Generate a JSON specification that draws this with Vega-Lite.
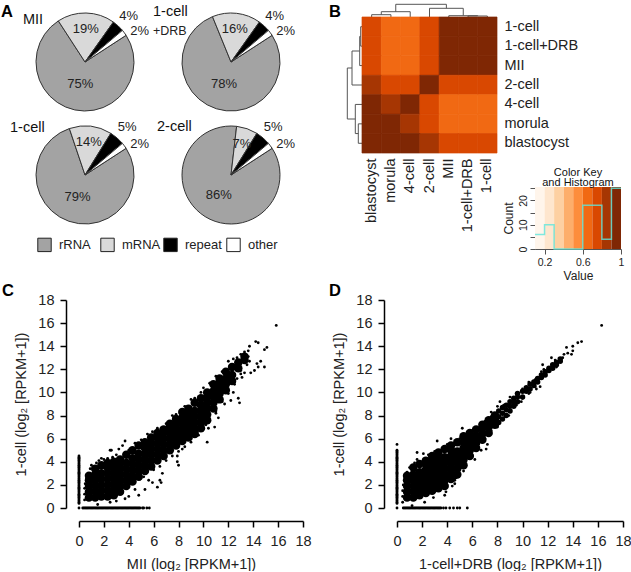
{
"$schema":"https://vega.github.io/schema/vega-lite/v6.json",
"padding":{"left":1,"top":-7,"right":0,"bottom":0},
"config":{"font":"Liberation Sans","view":{"stroke":null},"axis":{"grid":false},"text":{"color":"#222"},"title":{"color":"#111"}},
"datasets":{
"pie":[
{"stage":"MII","type":"rRNA","pct":75,"k":1,"label":"75%"},{"stage":"MII","type":"mRNA","pct":19,"k":2,"label":"19%"},{"stage":"MII","type":"repeat","pct":4,"k":3,"label":"4%"},{"stage":"MII","type":"other","pct":2,"k":4,"label":"2%"},
{"stage":"DRB","type":"rRNA","pct":78,"k":1,"label":"78%"},{"stage":"DRB","type":"mRNA","pct":16,"k":2,"label":"16%"},{"stage":"DRB","type":"repeat","pct":4,"k":3,"label":"4%"},{"stage":"DRB","type":"other","pct":2,"k":4,"label":"2%"},
{"stage":"1-cell","type":"rRNA","pct":79,"k":1,"label":"79%"},{"stage":"1-cell","type":"mRNA","pct":14,"k":2,"label":"14%"},{"stage":"1-cell","type":"repeat","pct":5,"k":3,"label":"5%"},{"stage":"1-cell","type":"other","pct":2,"k":4,"label":"2%"},
{"stage":"2-cell","type":"rRNA","pct":86,"k":1,"label":"86%"},{"stage":"2-cell","type":"mRNA","pct":7,"k":2,"label":"7%"},{"stage":"2-cell","type":"repeat","pct":5,"k":3,"label":"5%"},{"stage":"2-cell","type":"other","pct":2,"k":4,"label":"2%"}
],
"heat":[
{"r":"1-cell","c":"blastocyst","v":0.75},{"r":"1-cell","c":"morula","v":0.65},{"r":"1-cell","c":"4-cell","v":0.65},{"r":"1-cell","c":"2-cell","v":0.75},{"r":"1-cell","c":"MII","v":0.95},{"r":"1-cell","c":"1-cell+DRB","v":0.95},{"r":"1-cell","c":"1-cell","v":0.95},
{"r":"1-cell+DRB","c":"blastocyst","v":0.75},{"r":"1-cell+DRB","c":"morula","v":0.65},{"r":"1-cell+DRB","c":"4-cell","v":0.65},{"r":"1-cell+DRB","c":"2-cell","v":0.75},{"r":"1-cell+DRB","c":"MII","v":0.95},{"r":"1-cell+DRB","c":"1-cell+DRB","v":0.95},{"r":"1-cell+DRB","c":"1-cell","v":0.95},
{"r":"MII","c":"blastocyst","v":0.75},{"r":"MII","c":"morula","v":0.65},{"r":"MII","c":"4-cell","v":0.65},{"r":"MII","c":"2-cell","v":0.75},{"r":"MII","c":"MII","v":0.95},{"r":"MII","c":"1-cell+DRB","v":0.95},{"r":"MII","c":"1-cell","v":0.95},
{"r":"2-cell","c":"blastocyst","v":0.85},{"r":"2-cell","c":"morula","v":0.75},{"r":"2-cell","c":"4-cell","v":0.75},{"r":"2-cell","c":"2-cell","v":0.95},{"r":"2-cell","c":"MII","v":0.75},{"r":"2-cell","c":"1-cell+DRB","v":0.75},{"r":"2-cell","c":"1-cell","v":0.75},
{"r":"4-cell","c":"blastocyst","v":0.95},{"r":"4-cell","c":"morula","v":0.85},{"r":"4-cell","c":"4-cell","v":0.95},{"r":"4-cell","c":"2-cell","v":0.75},{"r":"4-cell","c":"MII","v":0.65},{"r":"4-cell","c":"1-cell+DRB","v":0.65},{"r":"4-cell","c":"1-cell","v":0.65},
{"r":"morula","c":"blastocyst","v":0.95},{"r":"morula","c":"morula","v":0.95},{"r":"morula","c":"4-cell","v":0.85},{"r":"morula","c":"2-cell","v":0.75},{"r":"morula","c":"MII","v":0.65},{"r":"morula","c":"1-cell+DRB","v":0.65},{"r":"morula","c":"1-cell","v":0.65},
{"r":"blastocyst","c":"blastocyst","v":0.95},{"r":"blastocyst","c":"morula","v":0.95},{"r":"blastocyst","c":"4-cell","v":0.95},{"r":"blastocyst","c":"2-cell","v":0.85},{"r":"blastocyst","c":"MII","v":0.75},{"r":"blastocyst","c":"1-cell+DRB","v":0.75},{"r":"blastocyst","c":"1-cell","v":0.75}
],
"treeTop":[
{"a":0.5,"b":1.5,"h":2.3,"i":2.3},{"a":1,"b":2.5,"h":5.3,"i":5.3},{"a":1.75,"b":4.375,"h":12.7,"i":12.7},{"a":3.5,"b":5.25,"h":8.7,"i":8.7},{"a":4.5,"b":6,"h":1.3,"i":1.3},{"a":5.5,"b":6.5,"h":1,"i":1},
{"a":0.5,"b":0.5,"h":0,"i":2.3},{"a":1.5,"b":1.5,"h":0,"i":2.3},{"a":1,"b":1,"h":2.3,"i":5.3},{"a":2.5,"b":2.5,"h":0,"i":5.3},{"a":1.75,"b":1.75,"h":5.3,"i":12.7},{"a":4.375,"b":4.375,"h":8.7,"i":12.7},{"a":3.5,"b":3.5,"h":0,"i":8.7},{"a":5.25,"b":5.25,"h":1.3,"i":8.7},{"a":4.5,"b":4.5,"h":0,"i":1.3},{"a":6,"b":6,"h":1,"i":1.3},{"a":5.5,"b":5.5,"h":0,"i":1},{"a":6.5,"b":6.5,"h":0,"i":1}
],
"treeLeft":[
{"h":1.3,"i":1.3,"a":0.5,"b":1.5},{"h":2.3,"i":2.3,"a":1,"b":2.5},{"h":10,"i":10,"a":1.75,"b":3.5},{"h":14.7,"i":14.7,"a":2.625,"b":5.25},{"h":6.7,"i":6.7,"a":4.5,"b":6},{"h":3.7,"i":3.7,"a":5.5,"b":6.5},
{"h":0,"i":1.3,"a":0.5,"b":0.5},{"h":0,"i":1.3,"a":1.5,"b":1.5},{"h":1.3,"i":2.3,"a":1,"b":1},{"h":0,"i":2.3,"a":2.5,"b":2.5},{"h":2.3,"i":10,"a":1.75,"b":1.75},{"h":0,"i":10,"a":3.5,"b":3.5},{"h":10,"i":14.7,"a":2.625,"b":2.625},{"h":6.7,"i":14.7,"a":5.25,"b":5.25},{"h":0,"i":6.7,"a":4.5,"b":4.5},{"h":3.7,"i":6.7,"a":6,"b":6},{"h":0,"i":3.7,"a":5.5,"b":5.5},{"h":0,"i":3.7,"a":6.5,"b":6.5}
],
"keyBins":[{"s":0.1,"e":0.2,"v":0.15},{"s":0.2,"e":0.3,"v":0.25},{"s":0.3,"e":0.4,"v":0.35},{"s":0.4,"e":0.5,"v":0.45},{"s":0.5,"e":0.6,"v":0.55},{"s":0.6,"e":0.7,"v":0.65},{"s":0.7,"e":0.8,"v":0.75},{"s":0.8,"e":0.9,"v":0.85},{"s":0.9,"e":1,"v":0.95}],
"hist":[{"v":0.1,"n":6},{"v":0.2,"n":10},{"v":0.3,"n":0},{"v":0.4,"n":0},{"v":0.5,"n":0},{"v":0.6,"n":18},{"v":0.7,"n":18},{"v":0.8,"n":4},{"v":0.9,"n":25},{"v":1,"n":25}],
"cCore":[
{"x":0.8,"y":0.9},{"x":0.8,"y":1.4},{"x":0.8,"y":1.9},{"x":0.8,"y":2.4},{"x":0.8,"y":2.8},
{"x":1.3,"y":0.9},{"x":1.3,"y":1.4},{"x":1.3,"y":1.9},{"x":1.3,"y":2.4},{"x":1.3,"y":2.9},{"x":1.3,"y":3.4},
{"x":1.8,"y":1},{"x":1.8,"y":1.5},{"x":1.8,"y":2},{"x":1.8,"y":2.5},{"x":1.8,"y":3},{"x":1.8,"y":3.7},
{"x":2.3,"y":1},{"x":2.3,"y":1.5},{"x":2.3,"y":2},{"x":2.3,"y":2.5},{"x":2.3,"y":3},{"x":2.3,"y":3.5},{"x":2.3,"y":3.9},
{"x":2.8,"y":1.1},{"x":2.8,"y":1.6},{"x":2.8,"y":2.1},{"x":2.8,"y":2.6},{"x":2.8,"y":3.1},{"x":2.8,"y":3.6},{"x":2.8,"y":4},
{"x":3.3,"y":1.4},{"x":3.3,"y":1.9},{"x":3.3,"y":2.4},{"x":3.3,"y":2.9},{"x":3.3,"y":3.4},{"x":3.3,"y":3.9},{"x":3.3,"y":4.2},
{"x":3.8,"y":1.9},{"x":3.8,"y":2.4},{"x":3.8,"y":2.9},{"x":3.8,"y":3.4},{"x":3.8,"y":3.9},{"x":3.8,"y":4.6},
{"x":4.3,"y":2.3},{"x":4.3,"y":2.8},{"x":4.3,"y":3.3},{"x":4.3,"y":3.8},{"x":4.3,"y":4.3},{"x":4.3,"y":5},
{"x":4.8,"y":2.7},{"x":4.8,"y":3.2},{"x":4.8,"y":3.7},{"x":4.8,"y":4.2},{"x":4.8,"y":4.7},{"x":4.8,"y":5.4},
{"x":5.3,"y":3.2},{"x":5.3,"y":3.7},{"x":5.3,"y":4.2},{"x":5.3,"y":4.7},{"x":5.3,"y":5.2},{"x":5.3,"y":5.7},
{"x":5.8,"y":3.6},{"x":5.8,"y":4.1},{"x":5.8,"y":4.6},{"x":5.8,"y":5.1},{"x":5.8,"y":5.6},{"x":5.8,"y":6.1},
{"x":6.3,"y":4.1},{"x":6.3,"y":4.6},{"x":6.3,"y":5.1},{"x":6.3,"y":5.6},{"x":6.3,"y":6.1},{"x":6.3,"y":6.5},
{"x":6.8,"y":4.5},{"x":6.8,"y":5},{"x":6.8,"y":5.5},{"x":6.8,"y":6},{"x":6.8,"y":6.5},{"x":6.8,"y":6.8},
{"x":7.3,"y":5},{"x":7.3,"y":5.5},{"x":7.3,"y":6},{"x":7.3,"y":6.5},{"x":7.3,"y":7},{"x":7.3,"y":7.3},
{"x":7.8,"y":5.4},{"x":7.8,"y":5.9},{"x":7.8,"y":6.4},{"x":7.8,"y":6.9},{"x":7.8,"y":7.4},{"x":7.8,"y":7.7},
{"x":8.3,"y":5.8},{"x":8.3,"y":6.3},{"x":8.3,"y":6.8},{"x":8.3,"y":7.3},{"x":8.3,"y":7.8},{"x":8.3,"y":8.3},
{"x":8.8,"y":6.1},{"x":8.8,"y":6.6},{"x":8.8,"y":7.1},{"x":8.8,"y":7.6},{"x":8.8,"y":8.1},{"x":8.8,"y":8.6},
{"x":9.3,"y":6.4},{"x":9.3,"y":6.9},{"x":9.3,"y":7.4},{"x":9.3,"y":7.9},{"x":9.3,"y":8.4},{"x":9.3,"y":9.1},
{"x":9.8,"y":6.9},{"x":9.8,"y":7.4},{"x":9.8,"y":7.9},{"x":9.8,"y":8.4},{"x":9.8,"y":8.9},{"x":9.8,"y":9.5},
{"x":10.3,"y":7.6},{"x":10.3,"y":8.1},{"x":10.3,"y":8.6},{"x":10.3,"y":9.1},{"x":10.3,"y":9.6},{"x":10.3,"y":10},
{"x":10.8,"y":8.6},{"x":10.8,"y":9.1},{"x":10.8,"y":9.6},{"x":10.8,"y":10.1},{"x":10.8,"y":10.7},
{"x":11.3,"y":9.4},{"x":11.3,"y":9.9},{"x":11.3,"y":10.4},{"x":11.3,"y":10.9},{"x":11.3,"y":11.2},
{"x":11.8,"y":10.2},{"x":11.8,"y":10.7},{"x":11.8,"y":11.2},{"x":11.8,"y":11.8},
{"x":12.3,"y":11},{"x":12.3,"y":11.5},{"x":12.3,"y":12.2},
{"x":12.8,"y":12.1},{"x":12.8,"y":12.6},
{"x":13.3,"y":12.8},{"x":13.3,"y":13.1}
],
"cEdge":[
{"x":15.85,"y":15.8},{"x":14.2,"y":14.4},{"x":14.4,"y":14.3},{"x":14.9,"y":13.7},{"x":15.1,"y":13.9},{"x":14.6,"y":12.7},{"x":14.3,"y":12.5},{"x":14.9,"y":12.2},{"x":14.4,"y":12.2},{"x":14.1,"y":11.9},{"x":13.8,"y":11.7},{"x":13.3,"y":11.7},{"x":13.1,"y":11.3},{"x":12.7,"y":11.2},{"x":12.5,"y":10.9},{"x":13,"y":11.6},{"x":12.4,"y":10},{"x":12.8,"y":9.5},{"x":12.9,"y":9.1},{"x":12.2,"y":9.3},{"x":11.7,"y":9},{"x":11.2,"y":7.8},{"x":11,"y":8.2},{"x":10.9,"y":7},{"x":10.4,"y":6.9},{"x":10.2,"y":7.2},{"x":10.3,"y":5.7},{"x":9.6,"y":6.3},{"x":9.3,"y":6.2},{"x":9,"y":5.7},{"x":8.6,"y":6},{"x":8.3,"y":5.1},{"x":7.9,"y":4.5},{"x":8,"y":5.5},{"x":7.9,"y":4},{"x":8,"y":3.7},{"x":6.7,"y":3},{"x":6.5,"y":2.4},{"x":6.3,"y":1.8},{"x":6.6,"y":2.2},{"x":5.9,"y":2.2},{"x":5.6,"y":2.4},{"x":5.3,"y":1.6},{"x":4.9,"y":2.5},{"x":5.2,"y":2.7},{"x":4.8,"y":1.1},{"x":4.5,"y":1.6},{"x":4,"y":1},{"x":3.7,"y":0.8},{"x":3,"y":0.6},{"x":2.5,"y":0.5},{"x":1.5,"y":0.3},
{"x":6,"y":3.3},{"x":6.5,"y":3.6},{"x":7,"y":4.1},{"x":7.5,"y":4.5},{"x":8,"y":4.9},{"x":8.5,"y":5.3},{"x":9,"y":6},{"x":9.5,"y":6.6},{"x":10,"y":7.2},{"x":10.5,"y":7.7},{"x":11,"y":8.4},{"x":11.5,"y":9.2},{"x":12,"y":9.9},{"x":12.5,"y":10.7},{"x":13,"y":11.9},{"x":13.5,"y":12.4},
{"x":0.45,"y":0.7},{"x":0.45,"y":1.2},{"x":0.45,"y":1.7},{"x":0.5,"y":2.1},{"x":0.6,"y":2.5},{"x":0.7,"y":2.9},{"x":0.9,"y":3.4},{"x":1,"y":3.7},{"x":1.2,"y":3.6},{"x":1.6,"y":4.1},{"x":1.4,"y":3.9},{"x":1.8,"y":4.3},{"x":2,"y":4.2},{"x":2.3,"y":4.3},{"x":2.5,"y":5},{"x":2.6,"y":5},{"x":2.7,"y":4.4},{"x":3.7,"y":5.8},{"x":3.2,"y":5.1},{"x":3.5,"y":5.4},{"x":3,"y":4.6},{"x":4,"y":5},{"x":4.5,"y":5.6},{"x":5,"y":5.9},{"x":5.5,"y":6.4},{"x":6.3,"y":6.9},{"x":5.9,"y":6.6},{"x":6.6,"y":6.9},{"x":7,"y":7.3},{"x":7.3,"y":7.5},{"x":7.5,"y":8},{"x":7.8,"y":8.1},{"x":8.2,"y":8.4},{"x":8.5,"y":8.8},{"x":9,"y":9.4},{"x":9.3,"y":9.5},{"x":9.8,"y":10},{"x":10,"y":10.4},{"x":10.5,"y":10.8},{"x":11,"y":11.4},{"x":11.5,"y":11.8},{"x":12,"y":12.7},{"x":12.4,"y":12.9},{"x":12.7,"y":13},{"x":13,"y":13.3},{"x":13.3,"y":13.5},{"x":13.7,"y":14},{"x":13.6,"y":13.6},{"x":13.6,"y":13.1},{"x":13.7,"y":12.7},
{"x":0,"y":0},{"x":0,"y":0.4},{"x":0,"y":0.5},{"x":0,"y":0.6},{"x":0,"y":0.7},{"x":0,"y":0.8},{"x":0,"y":0.9},{"x":0,"y":1},{"x":0,"y":1.1},{"x":0,"y":1.2},{"x":0,"y":1.3},{"x":0,"y":1.4},{"x":0,"y":1.5},{"x":0,"y":1.6},{"x":0,"y":1.7},{"x":0,"y":1.8},{"x":0,"y":1.9},{"x":0,"y":2},{"x":0,"y":2.1},{"x":0,"y":2.2},{"x":0,"y":2.3},{"x":0,"y":2.4},{"x":0,"y":2.5},{"x":0,"y":2.6},{"x":0,"y":2.7},{"x":0,"y":2.8},{"x":0,"y":2.9},{"x":0,"y":3},{"x":0,"y":3.1},{"x":0,"y":3.2},{"x":0,"y":3.3},{"x":0,"y":3.4},{"x":0,"y":3.5},{"x":0,"y":3.6},{"x":0,"y":3.7},{"x":0,"y":3.8},{"x":0,"y":3.9},{"x":0,"y":4},{"x":0,"y":4.1},{"x":0,"y":4.2},{"x":0,"y":4.3},{"x":0,"y":4.4},{"x":0,"y":4.5},
{"x":0.3,"y":0},{"x":0.4,"y":0},{"x":0.5,"y":0},{"x":0.6,"y":0},{"x":0.7,"y":0},{"x":0.8,"y":0},{"x":0.9,"y":0},{"x":1,"y":0},{"x":1.1,"y":0},{"x":1.2,"y":0},{"x":1.3,"y":0},{"x":1.4,"y":0},{"x":1.5,"y":0},{"x":1.6,"y":0},{"x":1.7,"y":0},{"x":1.8,"y":0},{"x":1.9,"y":0},{"x":2,"y":0},{"x":2.1,"y":0},{"x":2.2,"y":0},{"x":2.3,"y":0},{"x":2.4,"y":0},{"x":2.5,"y":0},{"x":2.6,"y":0},{"x":2.7,"y":0},{"x":2.8,"y":0},{"x":2.9,"y":0},{"x":3,"y":0},{"x":3.1,"y":0},{"x":3.2,"y":0},{"x":3.3,"y":0},{"x":3.4,"y":0},{"x":3.5,"y":0},{"x":3.6,"y":0},{"x":3.7,"y":0},{"x":3.8,"y":0},{"x":3.9,"y":0},{"x":4,"y":0},{"x":4.1,"y":0},{"x":4.2,"y":0},{"x":4.3,"y":0},{"x":4.4,"y":0},{"x":4.5,"y":0},{"x":4.6,"y":0},{"x":4.7,"y":0},{"x":4.8,"y":0},{"x":4.9,"y":0},{"x":5.1,"y":0},{"x":5.2,"y":0},{"x":5.45,"y":0},{"x":5.65,"y":0}
],
"dCore":[
{"x":0.8,"y":0.9},{"x":0.8,"y":1.4},{"x":0.8,"y":1.9},{"x":0.8,"y":2.4},{"x":0.8,"y":2.8},
{"x":1.3,"y":0.9},{"x":1.3,"y":1.4},{"x":1.3,"y":1.9},{"x":1.3,"y":2.4},{"x":1.3,"y":2.9},{"x":1.3,"y":3.5},
{"x":1.8,"y":1.1},{"x":1.8,"y":1.6},{"x":1.8,"y":2.1},{"x":1.8,"y":2.6},{"x":1.8,"y":3.1},{"x":1.8,"y":3.8},
{"x":2.3,"y":1.3},{"x":2.3,"y":1.8},{"x":2.3,"y":2.3},{"x":2.3,"y":2.8},{"x":2.3,"y":3.3},{"x":2.3,"y":3.8},{"x":2.3,"y":4.1},
{"x":2.8,"y":1.5},{"x":2.8,"y":2},{"x":2.8,"y":2.5},{"x":2.8,"y":3},{"x":2.8,"y":3.5},{"x":2.8,"y":4},{"x":2.8,"y":4.5},
{"x":3.3,"y":1.7},{"x":3.3,"y":2.2},{"x":3.3,"y":2.7},{"x":3.3,"y":3.2},{"x":3.3,"y":3.7},{"x":3.3,"y":4.2},{"x":3.3,"y":4.8},
{"x":3.8,"y":1.9},{"x":3.8,"y":2.4},{"x":3.8,"y":2.9},{"x":3.8,"y":3.4},{"x":3.8,"y":3.9},{"x":3.8,"y":4.4},{"x":3.8,"y":5.1},
{"x":4.3,"y":2.5},{"x":4.3,"y":3},{"x":4.3,"y":3.5},{"x":4.3,"y":4},{"x":4.3,"y":4.5},{"x":4.3,"y":5},{"x":4.3,"y":5.4},
{"x":4.8,"y":2.9},{"x":4.8,"y":3.4},{"x":4.8,"y":3.9},{"x":4.8,"y":4.4},{"x":4.8,"y":4.9},{"x":4.8,"y":5.7},
{"x":5.3,"y":3.7},{"x":5.3,"y":4.2},{"x":5.3,"y":4.7},{"x":5.3,"y":5.2},{"x":5.3,"y":5.7},{"x":5.3,"y":6.2},
{"x":5.8,"y":4.5},{"x":5.8,"y":5},{"x":5.8,"y":5.5},{"x":5.8,"y":6},{"x":5.8,"y":6.5},
{"x":6.3,"y":5.2},{"x":6.3,"y":5.7},{"x":6.3,"y":6.2},{"x":6.3,"y":6.8},
{"x":6.8,"y":5.9},{"x":6.8,"y":6.4},{"x":6.8,"y":6.9},{"x":6.8,"y":7.2},
{"x":7.3,"y":6.5},{"x":7.3,"y":7},{"x":7.3,"y":7.6},
{"x":7.8,"y":7.2},{"x":7.8,"y":7.7},{"x":7.8,"y":8}
],
"dMid":[
{"x":8.1,"y":7.4},{"x":8.1,"y":7.9},{"x":8.1,"y":8.4},{"x":8.4,"y":7.7},{"x":8.4,"y":8.2},{"x":8.4,"y":8.7},{"x":8.7,"y":8},{"x":8.7,"y":8.5},{"x":8.7,"y":8.9},{"x":9,"y":8.4},{"x":9,"y":8.8},{"x":9,"y":9.2},{"x":9.3,"y":8.8},{"x":9.3,"y":9.2},{"x":9.3,"y":9.5},{"x":9.6,"y":9.2},{"x":9.6,"y":9.6},{"x":9.6,"y":9.9},{"x":10,"y":9.6},{"x":10,"y":10.1},{"x":10.3,"y":10.1},{"x":10.3,"y":10.4},{"x":10.6,"y":10.3},{"x":10.6,"y":10.7},{"x":10.9,"y":10.6},{"x":10.9,"y":10.9},{"x":11.2,"y":10.9},{"x":11.2,"y":11.2},{"x":11.5,"y":11.3},{"x":11.5,"y":11.5},{"x":11.8,"y":11.5},{"x":11.8,"y":11.8},{"x":12.1,"y":11.9},{"x":12.1,"y":12.1},{"x":12.4,"y":12.1},{"x":12.4,"y":12.4},{"x":12.7,"y":12.4},{"x":12.7,"y":12.6},{"x":13,"y":12.7},{"x":13,"y":12.9}
],
"dEdge":[
{"x":16.3,"y":15.8},{"x":14.7,"y":14.4},{"x":14.4,"y":14.3},{"x":14,"y":14},{"x":14,"y":13.6},{"x":13.9,"y":13.3},{"x":13.5,"y":13.9},{"x":13.6,"y":13.4},{"x":13.3,"y":13.3},{"x":13.2,"y":13},{"x":12.7,"y":12.2},{"x":12.6,"y":12.8},{"x":12.3,"y":13},{"x":11.7,"y":12},{"x":11.6,"y":12.4},{"x":11.4,"y":10.5},{"x":11.1,"y":10.3},{"x":10.6,"y":10},{"x":9.5,"y":9},{"x":9.9,"y":9.2},{"x":8.7,"y":8.1},{"x":8.9,"y":8},{"x":8,"y":7},{"x":7.2,"y":5.5},{"x":7.1,"y":5.1},{"x":6.7,"y":5},{"x":6.2,"y":4.2},{"x":6,"y":4.5},{"x":5.3,"y":3.2},{"x":5.1,"y":3.5},{"x":4.7,"y":2.6},{"x":4.6,"y":2.1},{"x":4.6,"y":2.4},{"x":4.4,"y":1.9},{"x":3.9,"y":1.4},{"x":3.8,"y":1.1},{"x":2.9,"y":0.9},{"x":2.2,"y":0.5},{"x":1.2,"y":0.2},
{"x":1,"y":3.5},{"x":1.4,"y":3.9},{"x":1.6,"y":4.2},{"x":1.6,"y":4.8},{"x":2.1,"y":4.7},{"x":2.5,"y":4.6},{"x":3,"y":4.9},{"x":3.2,"y":5.8},{"x":3.6,"y":5.1},{"x":4,"y":5.5},{"x":4.3,"y":6},{"x":4.6,"y":5.6},{"x":5.2,"y":6.9},{"x":5,"y":6},{"x":5.5,"y":6.3},{"x":6,"y":6.7},{"x":6.3,"y":6.9},{"x":6.6,"y":6.9},{"x":7,"y":7.5},{"x":7.5,"y":8.3},{"x":8,"y":8.8},{"x":8.2,"y":9.2},{"x":7.5,"y":7.9},{"x":8.5,"y":8.9},{"x":9,"y":9.6},{"x":9.5,"y":9.9},{"x":10,"y":10.3},{"x":10.5,"y":10.9},{"x":11,"y":11.1},{"x":11.5,"y":11.8},
{"x":6,"y":5.1},{"x":6.5,"y":5.5},{"x":7,"y":6},{"x":7.5,"y":6.7},{"x":8,"y":7.3},{"x":8.5,"y":7.8},{"x":9,"y":8.4},{"x":9.5,"y":8.9},{"x":10,"y":9.5},{"x":10.5,"y":9.9},{"x":11,"y":10.5},
{"x":0.45,"y":0.5},{"x":0.45,"y":1},{"x":0.45,"y":1.5},{"x":0.5,"y":2},{"x":0.6,"y":2.4},{"x":0.7,"y":2.9},{"x":0.8,"y":3.1},
{"x":0,"y":0},{"x":0,"y":0.4},{"x":0,"y":0.5},{"x":0,"y":0.6},{"x":0,"y":0.7},{"x":0,"y":0.8},{"x":0,"y":0.9},{"x":0,"y":1},{"x":0,"y":1.1},{"x":0,"y":1.2},{"x":0,"y":1.3},{"x":0,"y":1.4},{"x":0,"y":1.5},{"x":0,"y":1.6},{"x":0,"y":1.7},{"x":0,"y":1.8},{"x":0,"y":1.9},{"x":0,"y":2},{"x":0,"y":2.1},{"x":0,"y":2.2},{"x":0,"y":2.3},{"x":0,"y":2.4},{"x":0,"y":2.5},{"x":0,"y":2.6},{"x":0,"y":2.7},{"x":0,"y":2.8},{"x":0,"y":2.9},{"x":0,"y":3},{"x":0,"y":3.1},{"x":0,"y":3.2},{"x":0,"y":3.3},{"x":0,"y":3.4},{"x":0,"y":3.5},{"x":0,"y":3.6},{"x":0,"y":3.7},{"x":0,"y":3.8},{"x":0,"y":3.9},{"x":0,"y":4},{"x":0,"y":4.1},{"x":0,"y":4.2},{"x":0,"y":4.3},{"x":0,"y":4.4},{"x":0,"y":4.5},{"x":0,"y":4.6},{"x":0,"y":4.7},{"x":0,"y":4.8},{"x":0,"y":4.9},{"x":0,"y":5},{"x":0,"y":5.5},
{"x":0.5,"y":0},{"x":0.6,"y":0},{"x":0.7,"y":0},{"x":0.8,"y":0},{"x":0.9,"y":0},{"x":1,"y":0},{"x":1.1,"y":0},{"x":1.2,"y":0},{"x":1.3,"y":0},{"x":1.4,"y":0},{"x":1.5,"y":0},{"x":1.6,"y":0},{"x":1.7,"y":0},{"x":1.8,"y":0},{"x":1.9,"y":0},{"x":2,"y":0},{"x":2.1,"y":0},{"x":2.2,"y":0},{"x":2.3,"y":0},{"x":2.4,"y":0},{"x":2.5,"y":0},{"x":2.6,"y":0},{"x":2.7,"y":0},{"x":2.8,"y":0},{"x":2.9,"y":0},{"x":3,"y":0},{"x":3.1,"y":0},{"x":3.2,"y":0},{"x":3.3,"y":0},{"x":3.4,"y":0},{"x":3.5,"y":0},{"x":3.7,"y":0},{"x":3.9,"y":0},{"x":4.2,"y":0},{"x":4.5,"y":0},{"x":4.8,"y":0},{"x":5.0,"y":0},{"x":5.6,"y":0}
]
},
"spacing":0,
"columns":1,
"align":"none",
"resolve":{"scale":{"color":"independent"}},
"concat":[
{"hconcat":[
{"title":{"text":"A","anchor":"start","frame":"group","fontSize":16.5,"fontWeight":"bold","offset":0,"dx":-35,"dy":27,"color":"#000"},
 "concat":[
 {"width":98,"height":10,"data":{"values":[]},"mark":"point"},
 {"width":98,"height":10,"data":{"values":[]},"mark":"point"},
 {"width":98,"height":98,"title":{"text":"MII","anchor":"start","frame":"group","fontSize":14.5,"fontWeight":"normal","offset":0,"dx":-13,"dy":34},
  "data":{"name":"pie"},"transform":[{"filter":"datum.stage==='MII'"}],
  "encoding":{"theta":{"field":"pct","type":"quantitative","stack":true,"scale":{"domain":[0,100],"range":[0.995,7.278]}},"order":{"field":"k"},"detail":{"field":"k"}},
  "layer":[
  {"mark":{"type":"arc","outerRadius":49,"stroke":"#333","strokeWidth":1},"encoding":{"color":{"field":"type","type":"nominal","scale":{"domain":["rRNA","mRNA","repeat","other"],"range":["#a3a3a3","#d9d9d9","#000000","#ffffff"]},"legend":null}}},
  {"mark":{"type":"text","fontSize":13},"encoding":{"radius":{"value":23},"text":{"condition":{"test":"datum.k===1","field":"label"},"value":""}}},
  {"mark":{"type":"text","fontSize":13},"encoding":{"radius":{"value":33},"text":{"condition":{"test":"datum.k===2","field":"label"},"value":""}}},
  {"mark":{"type":"text","fontSize":13,"dx":1},"encoding":{"radius":{"value":63},"text":{"condition":{"test":"datum.k===3","field":"label"},"value":""}}},
  {"mark":{"type":"text","fontSize":13,"dx":4,"dy":7},"encoding":{"radius":{"value":63},"text":{"condition":{"test":"datum.k===4","field":"label"},"value":""}}}
  ]},
 {"width":98,"height":98,"title":{"text":"1-cell","subtitle":"+DRB","anchor":"start","frame":"group","fontSize":14.5,"fontWeight":"normal","subtitleFontSize":12.5,"subtitlePadding":5,"subtitleColor":"#222","offset":0,"dx":-29,"dy":45},
  "data":{"name":"pie"},"transform":[{"filter":"datum.stage==='DRB'"}],
  "encoding":{"theta":{"field":"pct","type":"quantitative","stack":true,"scale":{"domain":[0,100],"range":[0.995,7.278]}},"order":{"field":"k"},"detail":{"field":"k"}},
  "layer":[
  {"mark":{"type":"arc","outerRadius":49,"stroke":"#333","strokeWidth":1},"encoding":{"color":{"field":"type","type":"nominal","scale":{"domain":["rRNA","mRNA","repeat","other"],"range":["#a3a3a3","#d9d9d9","#000000","#ffffff"]},"legend":null}}},
  {"mark":{"type":"text","fontSize":13},"encoding":{"radius":{"value":23},"text":{"condition":{"test":"datum.k===1","field":"label"},"value":""}}},
  {"mark":{"type":"text","fontSize":13},"encoding":{"radius":{"value":33},"text":{"condition":{"test":"datum.k===2","field":"label"},"value":""}}},
  {"mark":{"type":"text","fontSize":13,"dx":1},"encoding":{"radius":{"value":63},"text":{"condition":{"test":"datum.k===3","field":"label"},"value":""}}},
  {"mark":{"type":"text","fontSize":13,"dx":4,"dy":7},"encoding":{"radius":{"value":63},"text":{"condition":{"test":"datum.k===4","field":"label"},"value":""}}}
  ]},
 {"width":98,"height":15,"data":{"values":[]},"mark":"point"},
 {"width":98,"height":15,"data":{"values":[]},"mark":"point"},
 {"width":98,"height":98,"title":{"text":"1-cell","anchor":"start","frame":"group","fontSize":14.5,"fontWeight":"normal","offset":0,"dx":-26,"dy":29},
  "data":{"name":"pie"},"transform":[{"filter":"datum.stage==='1-cell'"}],
  "encoding":{"theta":{"field":"pct","type":"quantitative","stack":true,"scale":{"domain":[0,100],"range":[0.995,7.278]}},"order":{"field":"k"},"detail":{"field":"k"}},
  "layer":[
  {"mark":{"type":"arc","outerRadius":49,"stroke":"#333","strokeWidth":1},"encoding":{"color":{"field":"type","type":"nominal","title":null,"scale":{"domain":["rRNA","mRNA","repeat","other"],"range":["#a3a3a3","#d9d9d9","#000000","#ffffff"]},"legend":{"orient":"none","legendX":1,"legendY":111,"direction":"horizontal","columns":4,"gridAlign":"all","columnPadding":0,"symbolType":"square","symbolSize":180,"symbolStrokeColor":"#222","symbolStrokeWidth":1,"symbolOpacity":1,"labelFontSize":13,"labelColor":"#222","labelOffset":7,"title":null}}}},
  {"mark":{"type":"text","fontSize":13},"encoding":{"radius":{"value":23},"text":{"condition":{"test":"datum.k===1","field":"label"},"value":""}}},
  {"mark":{"type":"text","fontSize":13},"encoding":{"radius":{"value":33},"text":{"condition":{"test":"datum.k===2","field":"label"},"value":""}}},
  {"mark":{"type":"text","fontSize":13,"dx":1},"encoding":{"radius":{"value":63},"text":{"condition":{"test":"datum.k===3","field":"label"},"value":""}}},
  {"mark":{"type":"text","fontSize":13,"dx":4,"dy":7},"encoding":{"radius":{"value":63},"text":{"condition":{"test":"datum.k===4","field":"label"},"value":""}}}
  ]},
 {"width":98,"height":98,"title":{"text":"2-cell","anchor":"start","frame":"group","fontSize":14.5,"fontWeight":"normal","offset":0,"dx":-25,"dy":25},
  "data":{"name":"pie"},"transform":[{"filter":"datum.stage==='2-cell'"}],
  "encoding":{"theta":{"field":"pct","type":"quantitative","stack":true,"scale":{"domain":[0,100],"range":[0.995,7.278]}},"order":{"field":"k"},"detail":{"field":"k"}},
  "layer":[
  {"mark":{"type":"arc","outerRadius":49,"stroke":"#333","strokeWidth":1},"encoding":{"color":{"field":"type","type":"nominal","scale":{"domain":["rRNA","mRNA","repeat","other"],"range":["#a3a3a3","#d9d9d9","#000000","#ffffff"]},"legend":null}}},
  {"mark":{"type":"text","fontSize":13},"encoding":{"radius":{"value":23},"text":{"condition":{"test":"datum.k===1","field":"label"},"value":""}}},
  {"mark":{"type":"text","fontSize":13},"encoding":{"radius":{"value":33},"text":{"condition":{"test":"datum.k===2","field":"label"},"value":""}}},
  {"mark":{"type":"text","fontSize":13,"dx":1},"encoding":{"radius":{"value":63},"text":{"condition":{"test":"datum.k===3","field":"label"},"value":""}}},
  {"mark":{"type":"text","fontSize":13,"dx":4,"dy":7},"encoding":{"radius":{"value":63},"text":{"condition":{"test":"datum.k===4","field":"label"},"value":""}}}
  ]}
 ],
 "columns":2,"bounds":"flush","spacing":{"row":0,"column":48},"resolve":{"scale":{"color":"independent"}}},
{"concat":[
 {"width":15,"height":14,"data":{"values":[]},"mark":"point","title":{"text":"B","anchor":"start","frame":"group","fontSize":16.5,"fontWeight":"bold","offset":0,"dx":-18,"dy":17,"color":"#000"}},
 {"width":135,"height":14,"data":{"name":"treeTop"},"mark":{"type":"rule","color":"#555","strokeWidth":1},
  "encoding":{"x":{"field":"a","type":"quantitative","axis":null,"scale":{"domain":[0,7]}},"x2":{"field":"b"},"y":{"field":"h","type":"quantitative","axis":null,"scale":{"domain":[0,14]}},"y2":{"field":"i"}}},
 {"width":38,"height":14,"data":{"values":[]},"mark":"point"},
 {"width":86,"height":14,"data":{"values":[]},"mark":"point"},
 {"width":15,"height":136,"data":{"name":"treeLeft"},"mark":{"type":"rule","color":"#555","strokeWidth":1},
  "encoding":{"x":{"field":"h","type":"quantitative","axis":null,"scale":{"domain":[15,0]}},"x2":{"field":"i"},"y":{"field":"a","type":"quantitative","axis":null,"scale":{"domain":[7,0]}},"y2":{"field":"b"}}},
 {"width":135,"height":136,"data":{"name":"heat"},"mark":{"type":"rect","strokeWidth":0.7},
  "encoding":{
   "x":{"field":"c","type":"nominal","sort":["blastocyst","morula","4-cell","2-cell","MII","1-cell+DRB","1-cell"],"title":null,"axis":{"labelAngle":270,"ticks":false,"domain":false,"labelFontSize":14.5,"labelPadding":5,"labelColor":"#222"}},
   "y":{"field":"r","type":"nominal","sort":["1-cell","1-cell+DRB","MII","2-cell","4-cell","morula","blastocyst"],"title":null,"axis":{"orient":"right","ticks":false,"domain":false,"labelFontSize":14.5,"labelPadding":7,"labelColor":"#222"}},
   "color":{"field":"v","type":"quantitative","legend":null,"scale":{"type":"quantize","domain":[0.1,1],"range":["#fff5eb","#fee6ce","#fdd0a2","#fdae6b","#fd8d3c","#f16913","#d94801","#a63603","#7f2704"]}},
   "stroke":{"field":"v","type":"quantitative","legend":null,"scale":{"type":"quantize","domain":[0.1,1],"range":["#fff5eb","#fee6ce","#fdd0a2","#fdae6b","#fd8d3c","#f16913","#d94801","#a63603","#7f2704"]}}}},
 {"width":38,"height":136,"data":{"values":[]},"mark":"point"},
 {"width":86,"height":136,"data":{"values":[]},"mark":"point"},
 {"width":15,"height":34,"data":{"values":[]},"mark":"point"},
 {"width":135,"height":34,"data":{"values":[]},"mark":"point"},
 {"width":38,"height":34,"data":{"values":[]},"mark":"point"},
 {"width":86,"height":34,"data":{"values":[]},"mark":"point"},
 {"width":15,"height":62,"data":{"values":[]},"mark":"point"},
 {"width":135,"height":62,"data":{"values":[]},"mark":"point"},
 {"width":38,"height":62,"data":{"values":[]},"mark":"point"},
 {"width":86,"height":62,"title":{"text":["Color Key","and Histogram"],"fontSize":11,"fontWeight":"normal","offset":3,"dy":6,"lineHeight":10.5,"anchor":"middle"},
  "layer":[
  {"data":{"name":"keyBins"},"mark":{"type":"rect"},
   "encoding":{"x":{"field":"s","type":"quantitative","scale":{"domain":[0.1,1],"nice":false,"zero":false},"title":"Value","axis":{"values":[0.2,0.4,0.6,0.8,1],"labelExpr":"(abs(datum.value-0.4)<0.01||abs(datum.value-0.8)<0.01)?'':datum.value","labelOverlap":false,"labelFlush":false,"labelFontSize":10.5,"titleFontSize":12,"titleFontWeight":"normal","tickColor":"#555","domainColor":"#555","labelColor":"#222","titleColor":"#222","tickSize":5,"labelPadding":3,"titlePadding":3}},"x2":{"field":"e"},
    "color":{"field":"v","type":"quantitative","legend":null,"scale":{"type":"quantize","domain":[0.1,1],"range":["#fff5eb","#fee6ce","#fdd0a2","#fdae6b","#fd8d3c","#f16913","#d94801","#a63603","#7f2704"]}}}},
  {"data":{"name":"hist"},"mark":{"type":"line","interpolate":"step-after","color":"#5ee6dc","strokeWidth":1.5,"opacity":0.8},
   "encoding":{"x":{"field":"v","type":"quantitative"},"y":{"field":"n","type":"quantitative","scale":{"domain":[0,25.5],"nice":false},"title":"Count","axis":{"values":[0,5,10,15,20,25],"labelExpr":"(datum.value%10===0)?datum.value:''","labelOverlap":false,"labelAngle":270,"labelFontSize":10.5,"titleFontSize":12,"titleFontWeight":"normal","tickColor":"#555","domainColor":"#555","labelColor":"#222","titleColor":"#222","tickSize":5,"labelPadding":2,"titlePadding":3}}}}
  ]}
 ],
 "columns":4,"bounds":"flush","spacing":0,"resolve":{"scale":{"color":"shared"}}}
],"spacing":34,"resolve":{"scale":{"color":"independent"}}},
{"hconcat":[
 {"width":43,"height":208,"data":{"values":[]},"mark":"point"},
 {"width":224,"height":208,"title":{"text":"C","anchor":"start","frame":"group","fontSize":16.5,"fontWeight":"bold","offset":4,"dx":-77,"dy":11,"color":"#000"},
  "encoding":{
   "x":{"field":"x","type":"quantitative","scale":{"domain":[0,18],"nice":false},"title":"MII (log₂ [RPKM+1])","axis":{"offset":13,"values":[0,2,4,6,8,10,12,14,16,18],"labelFontSize":14.5,"titleFontSize":14.5,"titleFontWeight":"normal","domainColor":"#000","domainWidth":1.5,"tickColor":"#000","tickWidth":1.5,"tickSize":6,"labelColor":"#222","titleColor":"#222","labelPadding":7,"titlePadding":10,"labelFlush":false}},
   "y":{"field":"y","type":"quantitative","scale":{"domain":[0,18],"nice":false},"title":"1-cell (log₂ [RPKM+1])","axis":{"offset":13,"values":[0,2,4,6,8,10,12,14,16,18],"labelFontSize":14.5,"titleFontSize":14.5,"titleFontWeight":"normal","domainColor":"#000","domainWidth":1.5,"tickColor":"#000","tickWidth":1.5,"tickSize":6,"labelColor":"#222","titleColor":"#222","labelPadding":6,"titlePadding":9,"labelFlush":false}}},
  "layer":[
   {"data":{"name":"cCore"},"mark":{"type":"circle","size":72,"color":"#000","opacity":1}},
   {"data":{"name":"cEdge"},"mark":{"type":"circle","size":8,"color":"#000","opacity":1}}
  ]},
 {"width":94,"height":208,"data":{"values":[]},"mark":"point"},
 {"width":226,"height":208,"title":{"text":"D","anchor":"start","frame":"group","fontSize":16.5,"fontWeight":"bold","offset":4,"dx":-68,"dy":11,"color":"#000"},
  "encoding":{
   "x":{"field":"x","type":"quantitative","scale":{"domain":[0,18],"nice":false},"title":"1-cell+DRB (log₂ [RPKM+1])","axis":{"offset":13,"values":[0,2,4,6,8,10,12,14,16,18],"labelFontSize":14.5,"titleFontSize":14.5,"titleFontWeight":"normal","domainColor":"#000","domainWidth":1.5,"tickColor":"#000","tickWidth":1.5,"tickSize":6,"labelColor":"#222","titleColor":"#222","labelPadding":7,"titlePadding":10,"labelFlush":false}},
   "y":{"field":"y","type":"quantitative","scale":{"domain":[0,18],"nice":false},"title":"1-cell (log₂ [RPKM+1])","axis":{"offset":13,"values":[0,2,4,6,8,10,12,14,16,18],"labelFontSize":14.5,"titleFontSize":14.5,"titleFontWeight":"normal","domainColor":"#000","domainWidth":1.5,"tickColor":"#000","tickWidth":1.5,"tickSize":6,"labelColor":"#222","titleColor":"#222","labelPadding":6,"titlePadding":9,"labelFlush":false}}},
  "layer":[
   {"data":{"name":"dCore"},"mark":{"type":"circle","size":72,"color":"#000","opacity":1}},
   {"data":{"name":"dMid"},"mark":{"type":"circle","size":30,"color":"#000","opacity":1}},
   {"data":{"name":"dEdge"},"mark":{"type":"circle","size":8,"color":"#000","opacity":1}}
  ]}
],"bounds":"flush","spacing":0,"resolve":{"scale":{"color":"independent","x":"independent","y":"independent"}}}
]
}
